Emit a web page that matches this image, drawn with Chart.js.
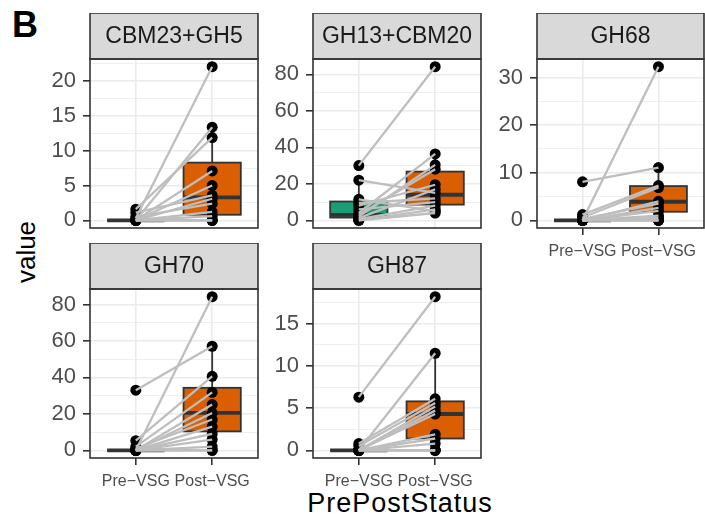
<!DOCTYPE html>
<html>
<head>
<meta charset="utf-8">
<script src="https://cdn.jsdelivr.net/npm/chart.js@4.4.0/dist/chart.umd.min.js"></script>
<style>
body { margin:0; width:705px; height:518px; background:#fff; position:relative; overflow:hidden; font-family:"Liberation Sans", Arial, sans-serif; }
canvas { position:absolute; }
.lbl { position:absolute; white-space:nowrap; color:#000; line-height:1; }
</style>
</head>
<body>
<div class="lbl" style="left:12px;top:7px;font-size:36px;font-weight:bold;">B</div>
<div class="lbl" style="left:26px;top:252px;font-size:26px;transform:translate(-50%,-50%) rotate(-90deg);">value</div>
<div class="lbl" style="left:400px;top:490px;font-size:27px;letter-spacing:1px;transform:translateX(-50%);">PrePostStatus</div>

<script>
var groups = ["Pre\u2212VSG", "Post\u2212VSG"];

// CBM23+GH5
var cbmPre  = [0.3, 0, 1.6, 0, 0, 1.1, 0, 0.5, 0, 0, 0, 0, 0];
var cbmPost = [22.1, 13.4, 11.9, 7.1, 5.0, 3.6, 3.1, 2.4, 1.2, 0.6, 0, 0, 0];
var cbmBoxPre  = [0, 0, 0, 0, 0];        // min, q1, median, q3, max
var cbmBoxPost = [0, 0.8, 3.3, 8.3, 13.4];
var cbmTicks = [0, 5, 10, 15, 20];

// GH13+CBM20
var gh13Pre  = [30, 22, 11.5, 9.5, 8, 6, 4, 3, 2, 1.2, 0.6, 0, 0];
var gh13Post = [84.2, 15, 5, 12, 19.5, 10, 36.4, 28, 30.4, 17, 8, 6, 4];
var gh13BoxPre  = [0, 1.5, 3, 10.3, 22];
var gh13BoxPost = [4, 8.6, 14, 26.7, 36.4];
var gh13Ticks = [0, 20, 40, 60, 80];

// GH68
var gh68Pre  = [8.1, 0, 1.2, 0.6, 0, 0.3, 0, 0, 0, 0, 0, 0, 0];
var gh68Post = [11.1, 32.3, 7.3, 6.9, 4.0, 3.5, 2.6, 2.0, 1.0, 0.5, 0, 0, 0];
var gh68BoxPre  = [0, 0, 0, 0, 0];
var gh68BoxPost = [0, 1.8, 3.9, 7.2, 11.1];
var gh68Ticks = [0, 10, 20, 30];

// GH70
var gh70Pre  = [33, 0, 5.3, 2, 0, 1, 0, 0, 0, 0, 0, 0, 0];
var gh70Post = [57.1, 84.3, 40.6, 31.8, 25.1, 16.9, 20.5, 13, 9, 5.9, 2, 0, 0];
var gh70BoxPre  = [0, 0, 0, 0, 0];
var gh70BoxPost = [0, 10.4, 20.5, 34.3, 57.1];
var gh70Ticks = [0, 20, 40, 60, 80];

// GH87
var gh87Pre  = [6.3, 0, 0.8, 0.5, 0, 0, 0, 0, 0, 0, 0, 0, 0];
var gh87Post = [18.2, 11.5, 6.1, 5.6, 5.2, 4.7, 4.3, 1.9, 1.4, 0.8, 0, 0, 0];
var gh87BoxPre  = [0, 0, 0, 0, 0];
var gh87BoxPost = [0, 1.4, 4.3, 5.8, 11.5];
var gh87Ticks = [0, 5, 10, 15];

var FONT = "'Liberation Sans', Arial, sans-serif";
var YW = 56, STRIP = 46, XH = 36;
var preColor = "#1B9E77", postColor = "#D95F02";

var panels = [
    { name: "CBM23+GH5", pre: cbmPre, post: cbmPost, boxPre: cbmBoxPre, boxPost: cbmBoxPost, ticks: cbmTicks, left: 90, top: 13, w: 168, h: 169, showX: false },
    { name: "GH13+CBM20", pre: gh13Pre, post: gh13Post, boxPre: gh13BoxPre, boxPost: gh13BoxPost, ticks: gh13Ticks, left: 313, top: 13, w: 168, h: 169, showX: false },
    { name: "GH68", pre: gh68Pre, post: gh68Post, boxPre: gh68BoxPre, boxPost: gh68BoxPost, ticks: gh68Ticks, left: 537, top: 13, w: 167, h: 169, showX: true },
    { name: "GH70", pre: gh70Pre, post: gh70Post, boxPre: gh70BoxPre, boxPost: gh70BoxPost, ticks: gh70Ticks, left: 90, top: 243, w: 168, h: 169, showX: true },
    { name: "GH87", pre: gh87Pre, post: gh87Post, boxPre: gh87BoxPre, boxPost: gh87BoxPost, ticks: gh87Ticks, left: 313, top: 243, w: 168, h: 169, showX: true }
];

function drawBox(ctx, xs, ys, cx, st, fill) {
    var x0 = xs.getPixelForValue(cx - 0.375), x1 = xs.getPixelForValue(cx + 0.375);
    var xc = xs.getPixelForValue(cx);
    var lo = ys.getPixelForValue(st[0]), q1 = ys.getPixelForValue(st[1]);
    var med = ys.getPixelForValue(st[2]), q3 = ys.getPixelForValue(st[3]);
    var hi = ys.getPixelForValue(st[4]);
    ctx.save();
    ctx.strokeStyle = "#333333";
    ctx.lineWidth = 1.8;
    ctx.beginPath();
    ctx.moveTo(xc, q3); ctx.lineTo(xc, hi);
    ctx.moveTo(xc, q1); ctx.lineTo(xc, lo);
    ctx.stroke();
    ctx.fillStyle = fill;
    ctx.fillRect(x0, q3, x1 - x0, q1 - q3);
    ctx.strokeRect(x0, q3, x1 - x0, q1 - q3);
    ctx.lineWidth = 3.8;
    ctx.beginPath();
    ctx.moveTo(x0, med); ctx.lineTo(x1, med);
    ctx.stroke();
    ctx.restore();
}

function makePanel(p) {
    var cv = document.createElement("canvas");
    cv.width = YW + p.w + 3;
    cv.height = STRIP + p.h + (p.showX ? XH : 3);
    cv.style.left = (p.left - YW) + "px";
    cv.style.top = p.top + "px";
    document.body.appendChild(cv);

    var all = p.pre.concat(p.post, p.boxPre, p.boxPost);
    var top = Math.max.apply(null, all);
    var yMin = -0.05 * top, yMax = 1.05 * top;

    // major + minor grid positions
    var step = p.ticks[1] - p.ticks[0];
    var grid = [];
    for (var v = 0; v <= yMax; v += step / 2) grid.push(Math.round(v * 100) / 100);

    var datasets = [];
    for (var i = 0; i < p.pre.length; i++) {
        datasets.push({
            data: [{ x: 1, y: p.pre[i] }, { x: 2, y: p.post[i] }],
            showLine: true, pointRadius: 0, borderColor: "#BEBEBE", borderWidth: 2.3, order: 0
        });
    }
    var pts = p.pre.map(function (v) { return { x: 1, y: v }; })
        .concat(p.post.map(function (v) { return { x: 2, y: v }; }));
    datasets.push({ data: pts, pointRadius: 5.5, backgroundColor: "#000", borderWidth: 0, order: 1 });

    var decor = {
        id: "decor",
        beforeDatasetsDraw: function (chart) {
            var ctx = chart.ctx;
            drawBox(ctx, chart.scales.x, chart.scales.y, 1, p.boxPre, preColor);
            drawBox(ctx, chart.scales.x, chart.scales.y, 2, p.boxPost, postColor);
        },
        afterDraw: function (chart) {
            var ctx = chart.ctx, a = chart.chartArea;
            ctx.save();
            ctx.strokeStyle = "#333333";
            ctx.lineWidth = 1.6;
            ctx.fillStyle = "#D9D9D9";
            ctx.fillRect(a.left, a.top - STRIP, a.right - a.left, STRIP);
            ctx.strokeRect(a.left, a.top - STRIP, a.right - a.left, STRIP);
            ctx.strokeRect(a.left, a.top, a.right - a.left, a.bottom - a.top);
            ctx.fillStyle = "#1A1A1A";
            ctx.font = "23px " + FONT;
            ctx.textAlign = "center";
            ctx.textBaseline = "middle";
            ctx.fillText(p.name, (a.left + a.right) / 2, a.top - STRIP / 2 + 1);
            ctx.restore();
        }
    };

    new Chart(cv, {
        type: "scatter",
        data: { datasets: datasets },
        plugins: [decor],
        options: {
            responsive: false,
            animation: false,
            devicePixelRatio: 1,
            layout: { autoPadding: false, padding: { top: STRIP, right: 3, left: 0, bottom: p.showX ? 0 : 3 } },
            plugins: { legend: { display: false }, tooltip: { enabled: false } },
            scales: {
                x: {
                    min: 0.4, max: 2.6,
                    afterBuildTicks: function (s) { s.ticks = [{ value: 1 }, { value: 2 }]; },
                    afterFit: function (s) { s.height = p.showX ? XH : 0; s.paddingLeft = 0; s.paddingRight = 0; },
                    ticks: {
                        display: p.showX, autoSkip: false, maxRotation: 0, padding: 7,
                        color: "#4D4D4D", font: { family: FONT, size: 16 },
                        callback: function (v) { return groups[v - 1]; }
                    },
                    grid: { color: "#EBEBEB", lineWidth: 1.6, tickColor: "#333333", tickLength: 7, tickWidth: 1.6, drawTicks: p.showX },
                    border: { display: false }
                },
                y: {
                    min: yMin, max: yMax,
                    afterBuildTicks: function (s) { s.ticks = grid.map(function (v) { return { value: v }; }); },
                    afterFit: function (s) { s.width = YW; s.paddingTop = 0; s.paddingBottom = 0; },
                    ticks: {
                        autoSkip: false, padding: 7,
                        color: "#4D4D4D", font: { family: FONT, size: 22 },
                        callback: function (v) { return p.ticks.indexOf(v) >= 0 ? String(v) : ""; }
                    },
                    grid: {
                        color: "#EBEBEB",
                        lineWidth: function (c) { return p.ticks.indexOf(c.tick.value) >= 0 ? 1.6 : 0.8; },
                        tickColor: function (c) { return p.ticks.indexOf(c.tick.value) >= 0 ? "#333333" : "rgba(0,0,0,0)"; },
                        tickLength: 7, tickWidth: 1.6
                    },
                    border: { display: false }
                }
            }
        }
    });
}

panels.forEach(makePanel);
</script>
</body>
</html>
